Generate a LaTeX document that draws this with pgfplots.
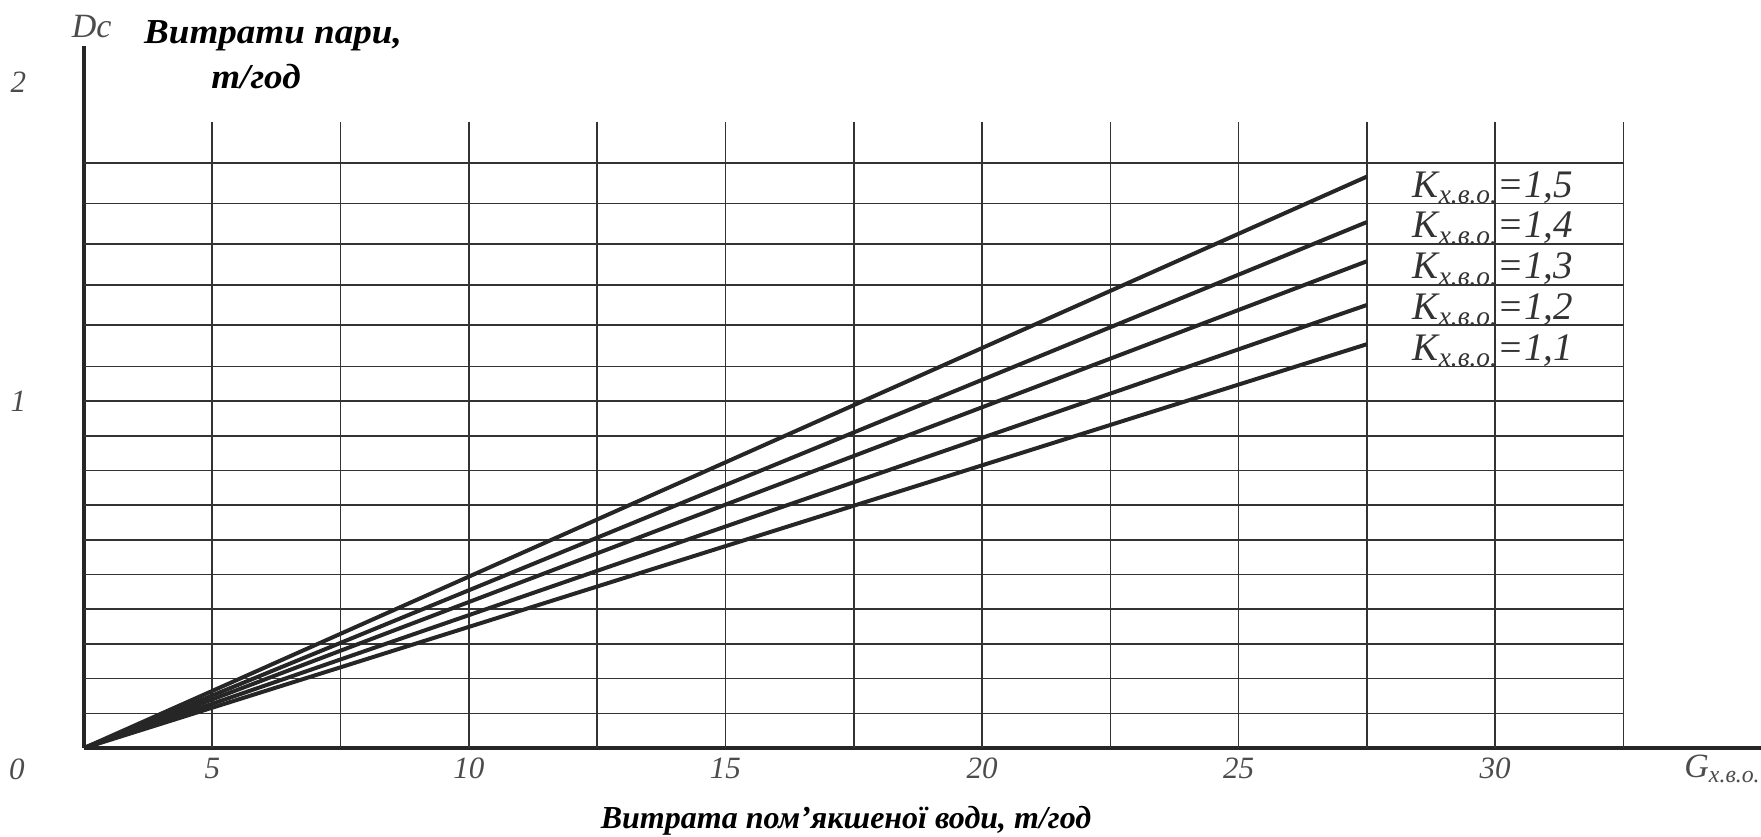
\documentclass[border=0pt]{standalone}
\usepackage{fontspec}
\setmainfont{Liberation Serif}
\usepackage{pgfplots}
\pgfplotsset{compat=1.18}
\begin{document}
\begin{tikzpicture}
\begin{axis}[
  x=25.66pt, y=173.5pt,
  xmin=2.5, xmax=35.18, ymin=0, ymax=2.023,
  axis lines=left,
  axis line style={-, line width=1.6pt, black!85},
  xtick={5,10,15,20,25,30},
  ytick={1,1.919}, yticklabels={1,2},
  tick style={draw=none},
  /pgf/number format/assume math mode=true,
  xticklabel style={font=\fontsize{15.5}{15.5}\selectfont\itshape, text=black!70, anchor=center, yshift=-8pt},
  yticklabel style={font=\fontsize{15.5}{15.5}\selectfont\itshape, text=black!70, anchor=center, xshift=-30.7pt},
  clip=false,
]
% grid
\pgfplotsinvokeforeach{5,7.5,...,32.5}{
  \draw[line width=0.8pt, black!80] (axis cs:#1,0) -- (axis cs:#1,1.804);
}
\pgfplotsinvokeforeach{0.1,0.2,0.3,0.4,0.5,0.6,0.7,0.8,0.9,1.0,1.1,1.219,1.335,1.453,1.57,1.687}{
  \draw[line width=0.8pt, black!80] (axis cs:2.5,#1) -- (axis cs:32.5,#1);
}
% series
\addplot[line width=2pt, black!85] coordinates {(2.5,0) (27.5,1.647)};
\addplot[line width=2pt, black!85] coordinates {(2.5,0) (27.5,1.516)};
\addplot[line width=2pt, black!85] coordinates {(2.5,0) (27.5,1.403)};
\addplot[line width=2pt, black!85] coordinates {(2.5,0) (27.5,1.277)};
\addplot[line width=2pt, black!85] coordinates {(2.5,0) (27.5,1.164)};
% legend labels
\node[font=\fontsize{19.5}{19.5}\selectfont\itshape, text=black!80] at (axis cs:29.955,1.615) {K\textsubscript{x.в.о.}=1,5};
\node[font=\fontsize{19.5}{19.5}\selectfont\itshape, text=black!80] at (axis cs:29.955,1.498) {K\textsubscript{x.в.о.}=1,4};
\node[font=\fontsize{19.5}{19.5}\selectfont\itshape, text=black!80] at (axis cs:29.955,1.380) {K\textsubscript{x.в.о.}=1,3};
\node[font=\fontsize{19.5}{19.5}\selectfont\itshape, text=black!80] at (axis cs:29.955,1.263) {K\textsubscript{x.в.о.}=1,2};
\node[font=\fontsize{19.5}{19.5}\selectfont\itshape, text=black!80] at (axis cs:29.955,1.146) {K\textsubscript{x.в.о.}=1,1};
% other labels
\node[font=\fontsize{15.5}{15.5}\selectfont\itshape, text=black!70] at (axis cs:1.194,-0.0605) {0};
\node[font=\fontsize{17}{17}\selectfont\itshape, text=black!70] at (axis cs:2.65,2.08) {Dc};
\node[font=\fontsize{17}{17}\selectfont\itshape, text=black!70, anchor=west] at (axis cs:33.55,-0.0605) {G\textsubscript{x.в.о.}};
\node[font=\fontsize{17.5}{17.5}\selectfont\bfseries\itshape, xscale=1.06] at (axis cs:6.183,2.052) {Витрати пари,};
\node[font=\fontsize{17.5}{17.5}\selectfont\bfseries\itshape, xscale=1.06] at (axis cs:5.852,1.934) {т/год};
\node[font=\fontsize{16}{16}\selectfont\bfseries\itshape] at (axis cs:17.35,-0.211) {Витрата пом’якшеної води, т/год};
\coordinate (bl) at (axis cs:0.863,-0.2536);
\coordinate (tr) at (axis cs:35.18,2.156);
\end{axis}
\pgfresetboundingbox
\useasboundingbox (bl) rectangle (tr);
\end{tikzpicture}
\end{document}
